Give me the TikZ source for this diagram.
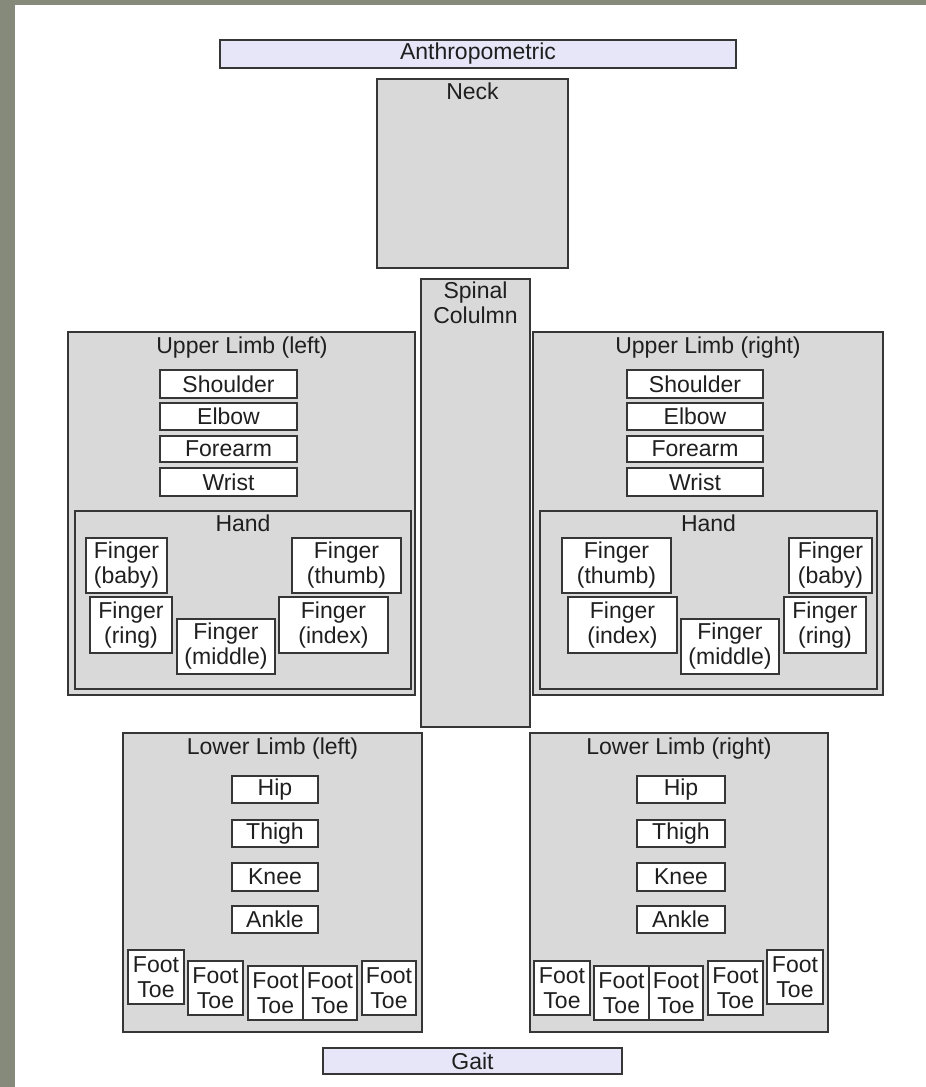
\documentclass[tikz,border=0pt]{standalone}
\usepackage{fontspec}
\setmainfont{Liberation Sans}
\usepackage{tikz}

\definecolor{framebg}{HTML}{868A7A}
\definecolor{edgecol}{HTML}{363636}
\definecolor{groupfill}{HTML}{D9D9D9}
\definecolor{barfill}{HTML}{E6E6F8}

\tikzset{
  lbl/.style={font=\fontsize{23}{25}\selectfont, text=black!88, align=center},
  partbox/.style={lbl, draw=edgecol, fill=white, line width=1.5pt, inner sep=0pt, outer sep=0pt},
  groupbox/.style={draw=edgecol, fill=groupfill, line width=1.5pt, inner sep=0pt, outer sep=0pt},
  barbox/.style={lbl, draw=edgecol, fill=barfill, line width=1.5pt, inner sep=0pt, outer sep=0pt},
  grouptitle/.style={lbl, anchor=base, inner sep=0pt}
}

% box from corner (x1,y1) to corner (x2,y2)
\newcommand{\boxat}[7]{\node[#1, minimum width={#5-#3}, minimum height={#6-#4}] (#2) at ({(#3+#5)/2},{(#4+#6)/2}) {#7};}

\begin{document}
\begin{tikzpicture}[x=1pt,y=-1pt]
	\useasboundingbox (0,0) rectangle (926,1087);
	\fill[framebg] (0,0) rectangle (926,1087);
	\fill[white] (15,5) rectangle (926,1087);
	% top and bottom bars
	\boxat{barbox}{anthro}{220}{40}{736}{68}{Anthropometric}
	\boxat{barbox}{gait}{323}{1048}{622}{1074}{Gait}
	% neck and spine
	\boxat{groupbox}{neck}{377}{79}{568}{268}{}
	\node[grouptitle] (neckT) at (472.5,99.5) {Neck};
	\boxat{groupbox}{spine}{421}{279}{530}{727}{}
	\node[lbl, anchor=north, inner sep=0pt] (spineT) at (475.5,282) {Spinal\\Colulmn};
	% upper limb (left)
	\boxat{groupbox}{ulL}{68}{332}{415}{695}{}
	\node[grouptitle] (ulLT) at (242,353) {Upper Limb (left)};
	\boxat{partbox}{shoulderL}{160}{370}{297}{398}{Shoulder}
	\boxat{partbox}{elbowL}{160}{403}{297}{430}{Elbow}
	\boxat{partbox}{forearmL}{160}{436}{297}{462}{Forearm}
	\boxat{partbox}{wristL}{160}{468}{297}{496}{Wrist}
	\boxat{groupbox}{handL}{75}{511}{411}{689}{}
	\node[grouptitle] (handLT) at (243,531) {Hand};
	\boxat{partbox}{babyL}{86}{538}{167}{593}{Finger\\(baby)}
	\boxat{partbox}{thumbL}{292}{538}{401}{593}{Finger\\(thumb)}
	\boxat{partbox}{ringL}{90}{597}{172}{653}{Finger\\(ring)}
	\boxat{partbox}{middleL}{177}{619}{275}{674}{Finger\\(middle)}
	\boxat{partbox}{indexL}{279}{597}{388}{653}{Finger\\(index)}
	% upper limb (right)
	\boxat{groupbox}{ulR}{533}{332}{883}{695}{}
	\node[grouptitle] (ulRT) at (708,353) {Upper Limb (right)};
	\boxat{partbox}{shoulderR}{627}{370}{763}{398}{Shoulder}
	\boxat{partbox}{elbowR}{627}{403}{763}{430}{Elbow}
	\boxat{partbox}{forearmR}{627}{436}{763}{462}{Forearm}
	\boxat{partbox}{wristR}{627}{468}{763}{496}{Wrist}
	\boxat{groupbox}{handR}{540}{511}{877}{689}{}
	\node[grouptitle] (handRT) at (708.5,531) {Hand};
	\boxat{partbox}{thumbR}{562}{538}{671}{593}{Finger\\(thumb)}
	\boxat{partbox}{babyR}{789}{538}{872}{593}{Finger\\(baby)}
	\boxat{partbox}{indexR}{568}{597}{677}{653}{Finger\\(index)}
	\boxat{partbox}{middleR}{681}{619}{779}{674}{Finger\\(middle)}
	\boxat{partbox}{ringR}{784}{597}{866}{653}{Finger\\(ring)}
	% lower limb (left)
	\boxat{groupbox}{llL}{123}{733}{422}{1032}{}
	\node[grouptitle] (llLT) at (272.5,754) {Lower Limb (left)};
	\boxat{partbox}{hipL}{232}{776}{318}{803}{Hip}
	\boxat{partbox}{thighL}{232}{820}{318}{847}{Thigh}
	\boxat{partbox}{kneeL}{232}{863}{318}{891}{Knee}
	\boxat{partbox}{ankleL}{232}{906}{318}{933}{Ankle}
	\boxat{partbox}{toeLa}{128}{950}{184}{1004}{Foot\\Toe}
	\boxat{partbox}{toeLb}{188}{961}{243}{1015}{Foot\\Toe}
	\boxat{partbox}{toeLc}{248}{966}{303}{1020}{Foot\\Toe}
	\boxat{partbox}{toeLd}{303}{966}{357}{1020}{Foot\\Toe}
	\boxat{partbox}{toeLe}{362}{961}{416}{1015}{Foot\\Toe}
	% lower limb (right)
	\boxat{groupbox}{llR}{530}{733}{828}{1032}{}
	\node[grouptitle] (llRT) at (679,754) {Lower Limb (right)};
	\boxat{partbox}{hipR}{637}{776}{725}{803}{Hip}
	\boxat{partbox}{thighR}{637}{820}{725}{847}{Thigh}
	\boxat{partbox}{kneeR}{637}{863}{725}{891}{Knee}
	\boxat{partbox}{ankleR}{637}{906}{725}{933}{Ankle}
	\boxat{partbox}{toeRa}{534}{961}{590}{1015}{Foot\\Toe}
	\boxat{partbox}{toeRb}{594}{966}{649}{1020}{Foot\\Toe}
	\boxat{partbox}{toeRc}{649}{966}{703}{1020}{Foot\\Toe}
	\boxat{partbox}{toeRd}{708}{961}{763}{1015}{Foot\\Toe}
	\boxat{partbox}{toeRe}{767}{950}{823}{1004}{Foot\\Toe}
\end{tikzpicture}
\end{document}
